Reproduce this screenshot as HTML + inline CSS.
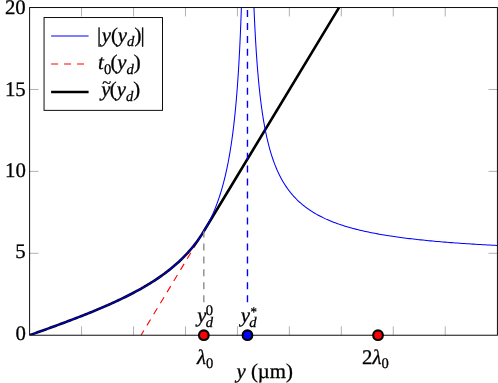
<!DOCTYPE html>
<html><head><meta charset="utf-8"><style>
html,body{margin:0;padding:0;background:#fff;}
body{width:498px;height:383px;overflow:hidden;}
svg{display:block;will-change:transform}
text{font-family:"Liberation Serif",serif;font-size:20.8px;fill:#000;stroke:#000;stroke-width:0.3px;text-rendering:geometricPrecision}
.i{font-style:italic}
.s{font-size:14.6px}
</style></head><body>
<svg width="498" height="383" viewBox="0 0 498 383">
<defs><clipPath id="c2"><rect x="29.62" y="0" width="467.78" height="335.22"/></clipPath><clipPath id="c"><rect x="29.62" y="7.55" width="467.78" height="327.67"/></clipPath></defs>
<path d="M81.57 335.22 v-8.9 M81.57 7.55 v8.9 M133.52 335.22 v-8.9 M133.52 7.55 v8.9 M185.47 335.22 v-8.9 M185.47 7.55 v8.9 M237.42 335.22 v-8.9 M237.42 7.55 v8.9 M289.37 335.22 v-8.9 M289.37 7.55 v8.9 M341.32 335.22 v-8.9 M341.32 7.55 v8.9 M393.27 335.22 v-8.9 M393.27 7.55 v8.9 M445.22 335.22 v-8.9 M445.22 7.55 v8.9 M29.62 253.30 h8.9 M497.40 253.30 h-8.9 M29.62 171.39 h8.9 M497.40 171.39 h-8.9 M29.62 89.47 h8.9 M497.40 89.47 h-8.9 " stroke="#808080" stroke-width="0.62" fill="none"/>
<g clip-path="url(#c)" fill="none">
<path d="M141.01 335.22 L203.82 231.27" stroke="#ff0000" stroke-width="1.1" stroke-dasharray="7 5.97" stroke-dashoffset="1.5"/>
</g>
<path d="M29.62 335.22 L31.08 334.69 L32.55 334.17 L34.01 333.64 L35.48 333.11 L36.94 332.59 L38.40 332.06 L39.87 331.53 L41.33 331.00 L42.79 330.48 L44.26 329.95 L45.72 329.42 L47.19 328.88 L48.65 328.35 L50.11 327.82 L51.58 327.29 L53.04 326.75 L54.51 326.22 L55.97 325.68 L57.43 325.14 L58.90 324.60 L60.36 324.06 L61.83 323.51 L63.29 322.97 L64.75 322.42 L66.22 321.88 L67.68 321.33 L69.14 320.77 L70.61 320.22 L72.07 319.66 L73.54 319.10 L75.00 318.54 L76.46 317.98 L77.93 317.41 L79.39 316.85 L80.86 316.27 L82.32 315.70 L83.78 315.12 L85.25 314.54 L86.71 313.96 L88.17 313.37 L89.64 312.78 L91.10 312.19 L92.57 311.59 L94.03 310.99 L95.49 310.39 L96.96 309.78 L98.42 309.16 L99.89 308.55 L101.35 307.92 L102.81 307.30 L104.28 306.67 L105.74 306.03 L107.20 305.39 L108.67 304.74 L110.13 304.09 L111.60 303.43 L113.06 302.77 L114.52 302.10 L115.99 301.42 L117.45 300.74 L118.92 300.05 L120.38 299.36 L121.84 298.66 L123.31 297.95 L124.77 297.23 L126.24 296.50 L127.70 295.77 L129.16 295.03 L130.63 294.28 L132.09 293.52 L133.55 292.75 L135.02 291.97 L136.48 291.19 L137.95 290.39 L139.41 289.58 L140.87 288.76 L142.34 287.93 L143.80 287.08 L145.27 286.23 L146.73 285.36 L148.19 284.48 L149.66 283.58 L151.12 282.68 L152.58 281.75 L154.05 280.81 L155.51 279.86 L156.98 278.88 L158.44 277.89 L159.90 276.88 L161.37 275.86 L162.83 274.81 L164.30 273.74 L165.76 272.65 L167.22 271.54 L168.69 270.40 L170.15 269.24 L171.61 268.05 L173.08 266.84 L174.54 265.60 L176.01 264.32 L177.47 263.02 L178.93 261.68 L180.40 260.31 L181.86 258.89 L183.33 257.44 L184.79 255.95 L186.25 254.42 L187.72 252.83 L189.18 251.20 L190.65 249.51 L192.11 247.77 L193.57 245.97 L195.04 244.11 L196.50 242.17 L197.96 240.16 L199.43 238.08 L200.89 235.90 L202.36 233.64 L203.82 231.27 L339.00 7.55" stroke="#000" stroke-width="2.6" stroke-linejoin="round" fill="none" clip-path="url(#c2)"/>
<g clip-path="url(#c)" fill="none">
<path d="M29.62 335.22 L31.74 334.46 L33.84 333.70 L35.94 332.95 L38.01 332.20 L40.08 331.46 L42.13 330.72 L44.16 329.98 L46.18 329.25 L48.19 328.52 L50.18 327.79 L52.16 327.07 L54.13 326.35 L56.08 325.64 L58.02 324.92 L59.95 324.21 L61.86 323.50 L63.76 322.80 L65.64 322.09 L67.51 321.39 L69.37 320.69 L71.22 319.99 L73.05 319.29 L74.87 318.59 L76.67 317.90 L78.47 317.21 L80.24 316.51 L82.01 315.82 L83.76 315.13 L85.51 314.44 L87.23 313.75 L88.95 313.06 L90.65 312.37 L92.34 311.68 L94.02 311.00 L95.68 310.31 L97.33 309.62 L98.97 308.93 L100.60 308.24 L102.21 307.56 L103.81 306.87 L105.40 306.18 L106.98 305.49 L108.55 304.80 L110.10 304.11 L111.64 303.41 L113.17 302.72 L114.68 302.03 L116.19 301.33 L117.68 300.63 L119.16 299.94 L120.63 299.24 L122.09 298.54 L123.53 297.83 L124.97 297.13 L126.39 296.43 L127.80 295.72 L129.20 295.01 L130.59 294.30 L131.96 293.59 L133.33 292.87 L134.68 292.15 L136.02 291.43 L137.35 290.71 L138.67 289.99 L139.98 289.26 L141.28 288.53 L142.56 287.80 L143.84 287.06 L145.10 286.33 L146.35 285.58 L147.60 284.84 L148.83 284.09 L150.05 283.34 L151.26 282.59 L152.46 281.83 L153.65 281.07 L154.82 280.31 L155.99 279.54 L157.15 278.77 L158.29 277.99 L159.43 277.21 L160.55 276.43 L161.67 275.64 L162.77 274.85 L163.87 274.06 L164.95 273.25 L166.03 272.45 L167.09 271.64 L168.14 270.83 L169.19 270.01 L170.22 269.18 L171.25 268.36 L172.26 267.52 L173.27 266.68 L174.26 265.84 L175.25 264.99 L176.22 264.13 L177.19 263.27 L178.14 262.41 L179.09 261.53 L180.03 260.66 L180.96 259.77 L181.87 258.88 L182.78 257.99 L183.68 257.08 L184.57 256.17 L185.45 255.26 L186.33 254.34 L187.19 253.41 L188.04 252.47 L188.89 251.53 L189.73 250.58 L190.55 249.62 L191.37 248.66 L192.18 247.68 L192.98 246.70 L193.78 245.72 L194.56 244.72 L195.33 243.72 L196.10 242.71 L196.86 241.69 L197.61 240.66 L198.35 239.62 L199.08 238.58 L199.81 237.52 L200.52 236.46 L201.23 235.39 L201.93 234.31 L202.62 233.22 L203.30 232.12 L203.98 231.01 L204.65 229.89 L205.31 228.76 L205.96 227.62 L206.60 226.47 L207.24 225.31 L207.87 224.14 L208.49 222.96 L209.10 221.77 L209.70 220.57 L210.30 219.36 L210.89 218.13 L211.47 216.90 L212.05 215.65 L212.62 214.39 L213.18 213.12 L213.73 211.84 L214.28 210.54 L214.82 209.24 L215.35 207.92 L215.87 206.59 L216.39 205.24 L216.90 203.89 L217.40 202.52 L217.90 201.13 L218.39 199.74 L218.87 198.33 L219.35 196.91 L219.82 195.47 L220.28 194.02 L220.74 192.56 L221.19 191.08 L221.63 189.59 L222.07 188.09 L222.50 186.57 L222.92 185.03 L223.34 183.48 L223.75 181.92 L224.16 180.34 L224.56 178.75 L224.95 177.14 L225.34 175.52 L225.72 173.89 L226.09 172.23 L226.46 170.57 L226.82 168.89 L227.18 167.19 L227.53 165.48 L227.88 163.75 L228.22 162.01 L228.55 160.25 L228.88 158.48 L229.20 156.69 L229.52 154.89 L229.83 153.08 L230.14 151.25 L230.44 149.40 L230.73 147.54 L231.02 145.67 L231.31 143.78 L231.59 141.88 L231.86 139.96 L232.13 138.03 L232.40 136.09 L232.66 134.13 L232.91 132.17 L233.16 130.19 L233.41 128.20 L233.65 126.19 L233.88 124.18 L234.11 122.15 L234.34 120.12 L234.56 118.07 L234.78 116.02 L234.99 113.96 L235.20 111.89 L235.40 109.81 L235.60 107.73 L235.80 105.63 L235.99 103.54 L236.17 101.44 L236.36 99.34 L236.53 97.23 L236.71 95.12 L236.88 93.01 L237.04 90.90 L237.21 88.79 L237.36 86.69 L237.52 84.58 L237.67 82.48 L237.81 80.39 L237.96 78.30 L238.10 76.22 L238.23 74.14 L238.36 72.08 L238.49 70.03 L238.62 67.98 L238.74 65.96 L238.86 63.94 L238.97 61.95 L239.08 59.97 L239.19 58.01 L239.30 56.06 L239.40 54.14 L239.50 52.25 L239.60 50.37 L239.69 48.52 L239.78 46.70 L239.87 44.90 L239.95 43.13 L240.03 41.39 L240.11 39.69 L240.19 38.01 L240.26 36.37 L240.33 34.76 L240.40 33.19 L240.46 31.65 L240.53 30.15 L240.59 28.69 L240.64 27.26 L240.70 25.88 L240.75 24.53 L240.81 23.23 L240.86 21.96 L240.90 20.74 L240.95 19.56 L240.99 18.42 L241.03 17.32 L241.07 16.26 L241.11 15.25 L241.14 14.28 L241.18 13.35 L241.21 12.46 L241.24 11.61 L241.27 10.81 L241.29 10.04 L241.32 9.32 L241.34 8.64 L241.36 7.99 L241.38 7.38 L241.40 6.81 L241.42 6.28 L241.44 5.78 L241.45 5.32 L241.47 4.89 L241.48 4.50 L241.49 4.13 L241.50 3.80 L241.51 3.50 L241.52 3.22 L241.53 2.97 L241.54 2.75 L241.55 2.55 L241.55 2.37 L241.56 2.22 L241.56 2.09 L241.56 1.97 L241.57 1.88 L241.57 1.80 L241.57 1.73 L241.57 1.68 L241.58 1.63 L241.58 1.60 L241.58 1.58 L241.58 1.57 L241.58 1.56 L241.58 1.55 L241.58 1.55 L241.58 1.55" stroke="#0000ff" stroke-width="1.05"/>
<path d="M253.74 1.55 L253.74 1.55 L253.74 1.55 L253.74 1.56 L253.74 1.57 L253.74 1.58 L253.74 1.60 L253.74 1.63 L253.74 1.67 L253.75 1.72 L253.75 1.79 L253.75 1.87 L253.76 1.96 L253.76 2.07 L253.77 2.20 L253.77 2.35 L253.78 2.52 L253.78 2.71 L253.79 2.92 L253.80 3.16 L253.81 3.43 L253.82 3.72 L253.84 4.05 L253.85 4.40 L253.87 4.78 L253.88 5.19 L253.90 5.64 L253.92 6.12 L253.94 6.63 L253.96 7.18 L253.99 7.77 L254.01 8.39 L254.04 9.05 L254.07 9.74 L254.10 10.48 L254.13 11.25 L254.17 12.06 L254.21 12.92 L254.24 13.81 L254.28 14.74 L254.33 15.71 L254.37 16.72 L254.42 17.77 L254.47 18.86 L254.52 19.99 L254.58 21.16 L254.63 22.36 L254.69 23.61 L254.76 24.89 L254.82 26.21 L254.89 27.56 L254.96 28.95 L255.03 30.37 L255.11 31.82 L255.19 33.31 L255.27 34.83 L255.35 36.38 L255.44 37.96 L255.53 39.57 L255.63 41.20 L255.72 42.86 L255.83 44.55 L255.93 46.26 L256.04 47.99 L256.15 49.74 L256.26 51.51 L256.38 53.30 L256.50 55.10 L256.63 56.92 L256.76 58.76 L256.89 60.61 L257.03 62.47 L257.17 64.34 L257.31 66.22 L257.46 68.10 L257.62 70.00 L257.77 71.90 L257.94 73.80 L258.10 75.71 L258.27 77.62 L258.45 79.53 L258.62 81.44 L258.81 83.36 L258.99 85.26 L259.19 87.17 L259.38 89.07 L259.59 90.97 L259.79 92.86 L260.00 94.75 L260.22 96.62 L260.44 98.49 L260.67 100.36 L260.90 102.21 L261.13 104.05 L261.37 105.88 L261.62 107.71 L261.87 109.52 L262.13 111.31 L262.39 113.10 L262.66 114.87 L262.93 116.63 L263.21 118.38 L263.49 120.11 L263.78 121.82 L264.08 123.53 L264.38 125.21 L264.69 126.88 L265.00 128.54 L265.32 130.18 L265.64 131.81 L265.97 133.41 L266.31 135.01 L266.65 136.58 L267.00 138.14 L267.36 139.69 L267.72 141.21 L268.08 142.72 L268.46 144.22 L268.84 145.69 L269.23 147.15 L269.62 148.60 L270.02 150.02 L270.43 151.43 L270.84 152.83 L271.26 154.20 L271.69 155.56 L272.12 156.91 L272.56 158.23 L273.01 159.54 L273.47 160.84 L273.93 162.12 L274.40 163.38 L274.88 164.63 L275.36 165.86 L275.85 167.07 L276.35 168.27 L276.86 169.45 L277.37 170.62 L277.89 171.78 L278.42 172.91 L278.96 174.04 L279.50 175.15 L280.05 176.24 L280.61 177.32 L281.18 178.38 L281.76 179.43 L282.34 180.47 L282.93 181.49 L283.53 182.50 L284.14 183.50 L284.76 184.48 L285.38 185.45 L286.01 186.40 L286.65 187.34 L287.30 188.27 L287.96 189.19 L288.63 190.10 L289.30 190.99 L289.99 191.87 L290.68 192.73 L291.38 193.59 L292.09 194.43 L292.81 195.26 L293.54 196.08 L294.28 196.89 L295.02 197.69 L295.78 198.48 L296.54 199.25 L297.32 200.02 L298.10 200.77 L298.89 201.52 L299.69 202.25 L300.50 202.98 L301.32 203.69 L302.15 204.39 L302.99 205.09 L303.84 205.77 L304.70 206.44 L305.57 207.11 L306.45 207.76 L307.34 208.41 L308.23 209.05 L309.14 209.68 L310.06 210.30 L310.99 210.91 L311.93 211.51 L312.88 212.11 L313.84 212.69 L314.81 213.27 L315.78 213.84 L316.77 214.40 L317.78 214.95 L318.79 215.50 L319.81 216.04 L320.84 216.57 L321.88 217.09 L322.94 217.61 L324.00 218.12 L325.08 218.62 L326.16 219.12 L327.26 219.60 L328.37 220.09 L329.49 220.56 L330.62 221.03 L331.76 221.49 L332.91 221.94 L334.08 222.39 L335.25 222.84 L336.44 223.27 L337.64 223.70 L338.85 224.13 L340.07 224.54 L341.30 224.96 L342.55 225.36 L343.81 225.76 L345.07 226.16 L346.36 226.55 L347.65 226.93 L348.95 227.31 L350.27 227.69 L351.60 228.06 L352.94 228.42 L354.29 228.78 L355.65 229.13 L357.03 229.48 L358.42 229.82 L359.82 230.16 L361.24 230.50 L362.66 230.83 L364.10 231.15 L365.56 231.47 L367.02 231.79 L368.50 232.10 L369.99 232.41 L371.49 232.71 L373.01 233.01 L374.54 233.30 L376.08 233.60 L377.63 233.88 L379.20 234.16 L380.78 234.44 L382.38 234.72 L383.99 234.99 L385.61 235.26 L387.24 235.52 L388.89 235.78 L390.55 236.04 L392.23 236.29 L393.92 236.54 L395.62 236.79 L397.34 237.03 L399.07 237.27 L400.81 237.50 L402.57 237.74 L404.34 237.97 L406.12 238.19 L407.92 238.41 L409.74 238.63 L411.57 238.85 L413.41 239.07 L415.27 239.28 L417.14 239.48 L419.02 239.69 L420.92 239.89 L422.84 240.09 L424.76 240.29 L426.71 240.48 L428.67 240.67 L430.64 240.86 L432.63 241.05 L434.63 241.23 L436.65 241.41 L438.68 241.59 L440.73 241.77 L442.79 241.94 L444.87 242.11 L446.96 242.28 L449.07 242.45 L451.19 242.61 L453.33 242.78 L455.48 242.94 L457.65 243.09 L459.84 243.25 L462.04 243.40 L464.25 243.55 L466.48 243.70 L468.73 243.85 L470.99 243.99 L473.27 244.14 L475.57 244.28 L477.88 244.42 L480.20 244.55 L482.55 244.69 L484.91 244.82 L487.28 244.95 L489.67 245.08 L492.08 245.21 L494.50 245.34 L496.94 245.46 L499.40 245.59" stroke="#0000ff" stroke-width="1.05"/>
</g>
<path d="M203.82 302.3 V231.27" stroke="#888" stroke-width="1.35" stroke-dasharray="7 5.97" fill="none"/>
<path d="M247.47 302.3 V7.55" stroke="#0000ff" stroke-width="1.4" stroke-dasharray="7 5.97" fill="none"/>
<rect x="29.62" y="7.55" width="467.78" height="327.67" fill="none" stroke="#000" stroke-width="0.95"/>
<!-- legend -->
<rect x="44.05" y="17.55" width="118.45" height="92.8" fill="#fff" stroke="#000" stroke-width="0.95"/>
<path d="M51.1 35.95 H88.6" stroke="#0000ff" stroke-width="1.05"/>
<path d="M51.1 64.0 H88.6" stroke="#ff0000" stroke-width="1.05" stroke-dasharray="7 5.97"/>
<path d="M51.1 92.0 H88.6" stroke="#000" stroke-width="2.5"/>
<text id="l1" x="97.0" y="41.7"><tspan>|</tspan><tspan class="i" dx="0.5">y</tspan>(<tspan class="i">y</tspan><tspan class="i s" dy="4.5">d</tspan><tspan dy="-4.5">)</tspan><tspan dx="-0.7">|</tspan></text>
<text id="l2" x="98" y="69"><tspan class="i">t</tspan><tspan class="s" dy="4.5" dx="0.3">0</tspan><tspan dy="-4.5" dx="-1">(</tspan><tspan class="i">y</tspan><tspan class="i s" dy="4.5">d</tspan><tspan dy="-4.5">)</tspan></text>
<text id="l3" x="101.3" y="96"><tspan class="i">y</tspan><tspan dx="-0.8">(</tspan><tspan class="i">y</tspan><tspan class="i s" dy="4.5">d</tspan><tspan dy="-4.5">)</tspan></text>
<text id="l3t" x="102.2" y="87.8" style="font-size:16.5px">~</text>
<!-- tick labels -->
<g text-anchor="end">
<text id="t0" x="25.9" y="339.5">0</text>
<text id="t5" x="25.7" y="257.7">5</text>
<text id="t10" x="25.8" y="176.5">10</text>
<text id="t15" x="25.7" y="95.7">15</text>
<text id="t20" x="25.7" y="14.4">20</text>
</g>
<!-- markers -->
<circle cx="203.82" cy="335.22" r="4.85" fill="#ff0000" stroke="#000" stroke-width="2.1"/>
<circle cx="378.02" cy="335.22" r="4.85" fill="#ff0000" stroke="#000" stroke-width="2.1"/>
<circle cx="247.47" cy="335.22" r="4.85" fill="#0000ff" stroke="#000" stroke-width="2.1"/>
<!-- labels -->
<text id="a1" x="197.2" y="322"><tspan class="i">y</tspan><tspan class="i s" dy="5" dx="-0.6">d</tspan><tspan class="s" dx="-7.4" dy="-12.1">0</tspan></text>
<text id="a2" x="240.7" y="322"><tspan class="i">y</tspan><tspan class="i s" dy="5" dx="-0.6">d</tspan><tspan style="font-size:13px" dx="-6.2" dy="-10.6">*</tspan></text>
<text id="b1" x="197" y="363.9"><tspan class="i">λ</tspan><tspan class="s" dy="4">0</tspan></text>
<text id="b2" x="362" y="363.9">2<tspan class="i">λ</tspan><tspan class="s" dy="4">0</tspan></text>
<text id="xl" x="236.5" y="378.2"><tspan class="i">y</tspan> (µm)</text>
</svg>
</body></html>
